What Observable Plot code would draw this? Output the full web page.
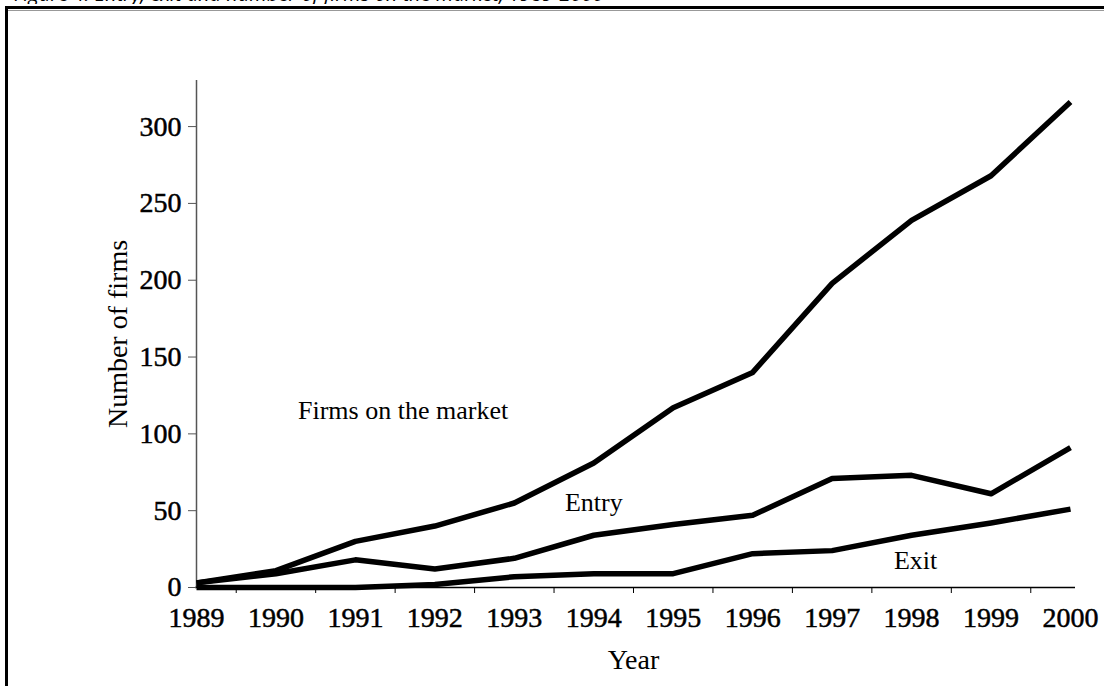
<!DOCTYPE html>
<html>
<head>
<meta charset="utf-8">
<script src="https://cdn.jsdelivr.net/npm/d3@7"></script>
<script src="https://cdn.jsdelivr.net/npm/@observablehq/plot@0.6"></script>
<style>
html, body { margin: 0; padding: 0; background: #fff; width: 1104px; height: 686px; overflow: hidden; }
#title { position: absolute; left: 0; top: 0; width: 1104px; height: 4px; overflow: hidden; }
#title span { position: absolute; left: 14px; top: -20px; line-height: 20px; font: italic 20px "Open Sans", sans-serif; white-space: nowrap; color: #000; }
#frame { position: absolute; left: 5px; top: 6px; right: 0; bottom: 0; border-top: 3px solid #000; border-left: 3px solid #000; }
#frame::before { content: ""; position: absolute; left: 0; right: 0; top: 1px; height: 1px; background: #999; }
#chart { position: absolute; left: 0; top: 0; }
#chart svg g[aria-label="y-axis tick label"] text,
#chart svg g[aria-label="x-axis tick label"] text { stroke: #000; stroke-width: 0.5px; }
</style>
</head>
<body>
<div id="title"><span>Figure 4. Entry, exit and number of firms on the market, 1989-2000</span></div>
<div id="frame"></div>
<div id="chart"></div>
<script>
// ---- data ----
const years = [1989, 1990, 1991, 1992, 1993, 1994, 1995, 1996, 1997, 1998, 1999, 2000];
const firmsOnMarket = [3, 11, 30, 40, 55, 81, 117, 140, 198, 239, 268, 316];
const entry = [3, 9, 18, 12, 19, 34, 41, 47, 71, 73, 61, 91];
const exit = [0, 0, 0, 2, 7, 9, 9, 22, 24, 34, 42, 51];
const yTicks = [0, 50, 100, 150, 200, 250, 300];
const seriesNames = ["Firms on the market", "Entry", "Exit"];
const labelYear = [1991.6, 1994.0, 1998.05];
const labelValue = [115, 55, 17.5];
const xTitle = "Year";
const yTitle = "Number of firms";

// ---- table ----
const seriesValues = [firmsOnMarket, entry, exit];
const rows = [];
seriesNames.forEach((name, s) => {
  years.forEach((yr, i) => rows.push({ year: yr, value: seriesValues[s][i], series: name }));
});
const labels = seriesNames.map((name, i) => ({ name, year: labelYear[i], value: labelValue[i] }));
const halfYears = years.slice(0, -1).map(y => y + 0.5);

const chart = Plot.plot({
  width: 1104,
  height: 686,
  marginLeft: 196,
  marginRight: 34,
  marginTop: 80,
  marginBottom: 99,
  style: {
    fontFamily: '"Liberation Serif", "Times New Roman", serif',
    fontSize: "28px",
    color: "#000",
    background: "transparent",
    overflow: "visible"
  },
  x: { domain: [1989, 2000] },
  y: { domain: [0, 330] },
  marks: [
    Plot.ruleX([1989], { stroke: "#555", strokeWidth: 1.5 }),
    Plot.ruleY([0], { stroke: "#000", strokeWidth: 1.5, insetRight: -5, insetLeft: -1 }),
    Plot.axisY(yTicks, { tickSize: 8, tickPadding: 7, label: null, stroke: "#555", fill: "#000", fontSize: 28 }),
    Plot.axisX(years, { tickSize: 0, tickPadding: 20, label: null, tickFormat: d => String(d), fill: "#000", fontSize: 28 }),
    Plot.axisX(halfYears, { tickSize: 6, text: null, label: null, stroke: "#000" }),
    Plot.line(rows, { x: "year", y: "value", z: "series", stroke: "#000", strokeWidth: 5.5, strokeLinejoin: "round", strokeLinecap: "butt" }),
    Plot.text(labels, { x: "year", y: "value", text: "name", fontSize: 26, fill: "#000" }),
    Plot.text([yTitle], { frameAnchor: "left", textAnchor: "middle", lineAnchor: "middle", dx: -78, rotate: -90, fontSize: 28, fill: "#000" }),
    Plot.text([xTitle], { frameAnchor: "bottom", textAnchor: "middle", dy: 81, fontSize: 28, fill: "#000" })
  ]
});
document.getElementById("chart").appendChild(chart);
</script>
</body>
</html>
